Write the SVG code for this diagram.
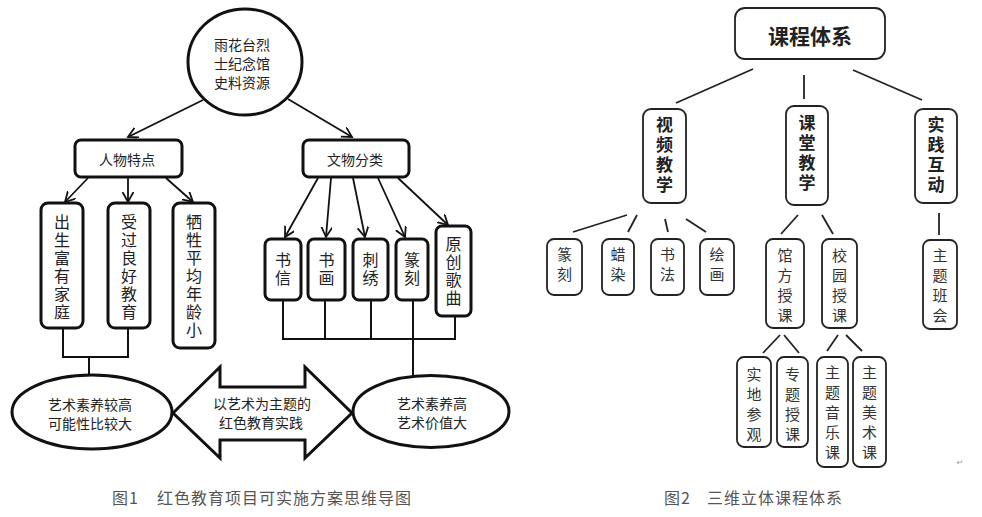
<svg xmlns="http://www.w3.org/2000/svg" width="982" height="517" viewBox="0 0 982 517">
<defs>
<style>
.bg{fill:#fff}
.lb{fill:#fff;stroke:#111;stroke-width:3}
.ln{fill:none;stroke:#111;stroke-width:2}
.la{fill:none;stroke:#111;stroke-width:1.8;marker-end:url(#ah)}
.lt{font-family:"Noto Sans CJK SC","Noto Sans",sans-serif;fill:#222;text-anchor:middle;dominant-baseline:central}
.lv{font-family:"Noto Sans CJK SC","Noto Sans",sans-serif;fill:#222;text-anchor:middle;writing-mode:vertical-rl;font-size:16px;letter-spacing:2px}
.rb{fill:#fff;stroke:#222;stroke-width:1.8}
.rl{fill:none;stroke:#222;stroke-width:1.8}
.rv{font-family:"Noto Sans CJK SC","Noto Sans",sans-serif;fill:#333;text-anchor:middle;writing-mode:vertical-rl;font-size:15px;letter-spacing:5px}
.rvb{font-family:"Noto Sans CJK SC","Noto Sans",sans-serif;fill:#222;text-anchor:middle;writing-mode:vertical-rl;font-weight:bold;font-size:17px;letter-spacing:3px}
.rtb{font-family:"Noto Sans CJK SC","Noto Sans",sans-serif;fill:#222;text-anchor:middle;dominant-baseline:central;font-weight:bold}
.cap{font-family:"Noto Sans CJK SC","Noto Sans",sans-serif;fill:#555;font-size:16px;dominant-baseline:central;letter-spacing:1px}
</style>
<marker id="ah" markerUnits="userSpaceOnUse" markerWidth="13" markerHeight="13" refX="10" refY="5.5" orient="auto">
<path d="M0,0 L10,5.5 L0,11" fill="none" stroke="#111" stroke-width="1.8"/>
</marker>
</defs>
<rect class="bg" x="0" y="0" width="982" height="517"/>

<!-- Figure 1 connectors -->
<g id="connectors1">
<line class="la" x1="203" y1="100" x2="128" y2="137"/>
<line class="la" x1="288" y1="99" x2="352" y2="137"/>
<line class="la" x1="88" y1="178" x2="65" y2="202"/>
<line class="la" x1="128" y1="178" x2="128" y2="202"/>
<line class="la" x1="166" y1="178" x2="193" y2="202"/>
<line class="la" x1="318" y1="178" x2="285" y2="237"/>
<line class="la" x1="331" y1="178" x2="326" y2="237"/>
<line class="la" x1="353" y1="178" x2="365" y2="237"/>
<line class="la" x1="378" y1="178" x2="405" y2="237"/>
<line class="la" x1="398" y1="178" x2="448" y2="225"/>
<polyline class="ln" points="63,328 63,357 128,357 128,328"/>
<line class="ln" x1="89" y1="357" x2="89" y2="376"/>
<polyline class="ln" points="283,300 283,339 455,339 455,316"/>
<line class="ln" x1="325" y1="300" x2="325" y2="339"/>
<line class="ln" x1="371" y1="300" x2="371" y2="339"/>
<line class="ln" x1="413" y1="300" x2="413" y2="377"/>
</g>

<g id="root1">
<ellipse class="lb" cx="245" cy="62" rx="57" ry="53"/>
<text class="lt" font-size="14" x="242" y="44">雨花台烈<tspan x="242" dy="19">士纪念馆</tspan><tspan x="242" dy="19">史料资源</tspan></text>
</g>
<g id="renwu">
<rect class="lb" x="75" y="140" width="107" height="37" rx="6"/>
<text class="lt" font-size="14" x="127" y="159">人物特点</text>
</g>
<g id="wenwu">
<rect class="lb" x="303" y="140" width="106" height="37" rx="6"/>
<text class="lt" font-size="14" x="355" y="159">文物分类</text>
</g>
<g id="chusheng">
<rect class="lb" x="41" y="203" width="42" height="125" rx="7"/>
<text class="lv" x="62" y="268">出生富有家庭</text>
</g>
<g id="shouguo">
<rect class="lb" x="108" y="203" width="42" height="125" rx="7"/>
<text class="lv" x="129" y="268">受过良好教育</text>
</g>
<g id="xisheng">
<rect class="lb" x="173" y="203" width="42" height="145" rx="7"/>
<text class="lv" x="194" y="277" letter-spacing="2.3">牺牲平均年龄小</text>
</g>
<g id="shuxin">
<rect class="lb" x="265" y="239" width="36" height="61" rx="6"/>
<text class="lv" x="283" y="270">书信</text>
</g>
<g id="shuhua">
<rect class="lb" x="308" y="239" width="37" height="61" rx="6"/>
<text class="lv" x="326.5" y="270">书画</text>
</g>
<g id="cixiu">
<rect class="lb" x="353" y="239" width="35" height="61" rx="6"/>
<text class="lv" x="370.5" y="270">刺绣</text>
</g>
<g id="zhuanke">
<rect class="lb" x="396" y="239" width="32" height="61" rx="6"/>
<text class="lv" x="412" y="270">篆刻</text>
</g>
<g id="yuanchuang">
<rect class="lb" x="436" y="226" width="35" height="90" rx="6"/>
<text class="lv" x="453.5" y="272" letter-spacing="2.5">原创歌曲</text>
</g>
<g id="ellipseL">
<ellipse class="lb" cx="92" cy="412" rx="80" ry="37"/>
<text class="lt" font-size="14" x="90" y="403.5">艺术素养较高<tspan x="90" dy="19">可能性比较大</tspan></text>
</g>
<g id="doublearrow">
<polygon class="lb" points="173,413 220,367 220,387 305,387 305,367 352,413 305,458 305,440 220,440 220,458"/>
<text class="lt" font-size="14" x="262" y="403">以艺术为主题的<tspan x="261" dy="19">红色教育实践</tspan></text>
</g>
<g id="ellipseR">
<ellipse class="lb" cx="431" cy="411.5" rx="78" ry="36"/>
<text class="lt" font-size="14" x="432" y="402.5">艺术素养高<tspan x="432" dy="19">艺术价值大</tspan></text>
</g>
<text class="cap" x="112" y="497">图1<tspan x="157">红色教育项目可实施方案思维导图</tspan></text>

<!-- Figure 2 connectors -->
<g id="connectors2">
<line class="rl" x1="753" y1="69" x2="676" y2="103"/>
<line class="rl" x1="804" y1="75" x2="804" y2="99"/>
<line class="rl" x1="853" y1="70" x2="922" y2="100"/>
<line class="rl" x1="627" y1="215" x2="573" y2="232"/>
<line class="rl" x1="637" y1="215" x2="628" y2="232"/>
<line class="rl" x1="665" y1="219" x2="668" y2="232"/>
<line class="rl" x1="686" y1="219" x2="706" y2="232"/>
<line class="rl" x1="798" y1="215" x2="781" y2="234"/>
<line class="rl" x1="822" y1="215" x2="833" y2="234"/>
<line class="rl" stroke-width="3" x1="939" y1="213" x2="939" y2="235"/>
<line class="rl" x1="780" y1="335" x2="763" y2="353"/>
<line class="rl" x1="784" y1="335" x2="799" y2="353"/>
<line class="rl" x1="838" y1="335" x2="827" y2="351"/>
<line class="rl" x1="846" y1="335" x2="862" y2="351"/>
</g>

<g id="kechengtixi">
<rect class="rb" x="735" y="8" width="150" height="51" rx="10"/>
<text class="rtb" font-size="21" x="810" y="35">课程体系</text>
</g>
<g id="shipin">
<rect class="rb" x="643" y="109" width="43" height="94" rx="8"/>
<text class="rvb" x="664.5" y="156">视频教学</text>
</g>
<g id="ketang">
<rect class="rb" x="786" y="106" width="42" height="99" rx="8"/>
<text class="rvb" x="807" y="154">课堂教学</text>
</g>
<g id="shijian">
<rect class="rb" x="915" y="109" width="42" height="94" rx="8"/>
<text class="rvb" x="936" y="156">实践互动</text>
</g>
<g id="zk2">
<rect class="rb" x="547" y="239" width="35" height="56" rx="7"/>
<text class="rv" x="564.5" y="267" letter-spacing="4">篆刻</text>
</g>
<g id="laran">
<rect class="rb" x="602" y="239" width="32" height="56" rx="7"/>
<text class="rv" x="618" y="267" letter-spacing="4">蜡染</text>
</g>
<g id="shufa">
<rect class="rb" x="651" y="239" width="33" height="56" rx="7"/>
<text class="rv" x="667.5" y="267" letter-spacing="4">书法</text>
</g>
<g id="huihua">
<rect class="rb" x="700" y="239" width="34" height="56" rx="7"/>
<text class="rv" x="717" y="267" letter-spacing="4">绘画</text>
</g>
<g id="guanfang">
<rect class="rb" x="766" y="239" width="38" height="89" rx="7"/>
<text class="rv" x="785" y="288">馆方授课</text>
</g>
<g id="xiaoyuan">
<rect class="rb" x="822" y="239" width="35" height="89" rx="7"/>
<text class="rv" x="839.5" y="288">校园授课</text>
</g>
<g id="zhutibanhui">
<rect class="rb" x="923" y="240" width="34" height="89" rx="7"/>
<text class="rv" x="940" y="288">主题班会</text>
</g>
<g id="shidi">
<rect class="rb" x="737" y="357" width="34" height="90" rx="7"/>
<text class="rv" x="754" y="407" letter-spacing="5.7">实地参观</text>
</g>
<g id="zhuanti">
<rect class="rb" x="777" y="357" width="31" height="90" rx="7"/>
<text class="rv" x="792.5" y="407" letter-spacing="5.7">专题授课</text>
</g>
<g id="yinyue">
<rect class="rb" x="817" y="357" width="31" height="110" rx="7"/>
<text class="rv" x="832.5" y="415">主题音乐课</text>
</g>
<g id="meishu">
<rect class="rb" x="853" y="357" width="33" height="110" rx="7"/>
<text class="rv" x="869.5" y="415">主题美术课</text>
</g>
<text x="960" y="465" font-family="DejaVu Sans, sans-serif" font-size="8" fill="#999" text-anchor="middle">↵</text>
<text class="cap" x="664" y="497">图2<tspan x="707">三维立体课程体系</tspan></text>
</svg>
